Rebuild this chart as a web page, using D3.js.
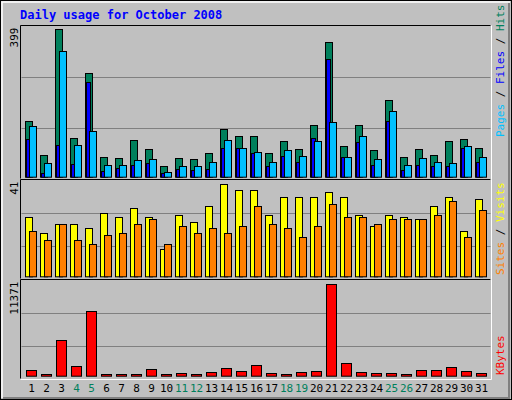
<!DOCTYPE html>
<html><head><meta charset="utf-8">
<script src="https://cdn.jsdelivr.net/npm/d3@7"></script>
<style>body{margin:0;background:#fff}</style>
</head><body><svg id="c" width="512" height="400"></svg>
<script>
const days = d3.range(1,32).map(String);
const weekend = ["4","5","11","12","18","19","25","26"];
const hits  = [151,58,399,106,282,52,50,98,74,28,50,47,63,128,109,109,63,96,74,139,364,82,139,71,207,52,74,60,96,101,79];
const files = [102,10,86,34,256,15,23,32,37,10,21,18,21,78,78,64,29,56,39,106,318,52,93,31,150,18,33,28,28,77,41];
const pages = [136,36,339,85,125,31,33,44,47,14,28,28,39,98,77,66,41,71,55,96,147,52,109,47,177,33,50,39,36,82,52];
const visits= [26.3,19.2,23.2,23.2,21.4,28,26.3,30.3,26.3,12,27.2,24,31.2,41,38.3,38.3,27.2,35.2,35.2,35.2,37.4,35.2,27.2,22.3,27.2,26.3,25.4,31.2,35.2,20,34.3];
const sites = [20,16,23.2,16,14.3,18.3,19.2,23.2,25.4,14.3,22.3,19.2,21.4,19.2,22.3,31.2,23.2,21.4,17.4,22.3,32.1,26.3,26.3,23.2,25.4,25.4,25.4,27.2,33.4,17.4,29.4];
const kbytes= [664,150,4400,1162,8010,150,150,150,790,150,290,150,415,913,540,1287,290,150,415,540,11371,1535,415,290,290,150,664,664,1037,540,290];
const maxTicks = {top:"399", mid:"41", bot:"11371"};

const svg = d3.select("#c");
const F = "DejaVu Sans Mono, monospace";
svg.append("rect").attr("x",0).attr("y",0).attr("width",512).attr("height",400).attr("fill","#C0C0C0");
svg.append("rect").attr("x",0.5).attr("y",0.5).attr("width",511).attr("height",399).attr("fill","none").attr("stroke","#000");
svg.append("path").attr("d","M2,398V2H510").attr("fill","none").attr("stroke","#fff").attr("stroke-width",1.5);
svg.append("path").attr("d","M509,3V398H3").attr("fill","none").attr("stroke","#808080").attr("stroke-width",2);
svg.append("text").attr("x",20).attr("y",19).attr("font-family",F).attr("font-weight","bold").attr("font-size",12).attr("fill","#0000FF").text("Daily usage for October 2008");

const x = d3.scaleBand().domain(days).range([21,486]);
const L=20.5, R=490.5;
const panels = [
  {y0:25.5,y1:178.5,base:176.7,top:29.3,max:399,tick:maxTicks.top},
  {y0:179.5,y1:278.5,base:276.3,top:184.3,max:41,tick:maxTicks.mid},
  {y0:279.5,y1:378.5,base:375.7,top:284.3,max:11371,tick:maxTicks.bot}
];
panels.forEach(p=>{
  p.y = d3.scaleLinear().domain([0,p.max]).range([p.base,p.top]);
  svg.append("path").attr("d",`M${L},${p.y1}V${p.y0}H${R}`).attr("fill","none").attr("stroke","#000");
  svg.append("path").attr("d",`M${R+1},${p.y0}V${p.y1+1}H${L}`).attr("fill","none").attr("stroke","#fff");
  const h=(p.y1-p.y0)/3;
  [1,2].forEach(k=>svg.append("line").attr("x1",L+1).attr("x2",R).attr("y1",Math.round(p.y0+h*k)+0.5).attr("y2",Math.round(p.y0+h*k)+0.5).attr("stroke","#808080"));
  svg.append("text").attr("transform",`translate(18,${p.y0+2}) rotate(-90)`).attr("text-anchor","end")
    .attr("font-family",F).attr("font-size",11).attr("fill","#000").text(p.tick);
});
function bars(data,p,off,w,color){
  svg.append("g").selectAll("rect").data(data).join("rect")
    .attr("x",(d,i)=>x(days[i])+off+0.5).attr("width",w)
    .attr("y",d=>Math.round(p.y(d))+0.5).attr("height",d=>Math.max(1,p.base-Math.round(p.y(d))))
    .attr("fill",color).attr("stroke","#000");
}
bars(hits,panels[0],4,7,"#00805C");
bars(files,panels[0],5,4,"#0000FF");
bars(pages,panels[0],8,7,"#00C0FF");
bars(visits,panels[1],4,7,"#FFFF00");
bars(sites,panels[1],8,7,"#FF8000");
bars(kbytes,panels[2],5,10,"#FF0000");

svg.append("g").selectAll("text").data(days).join("text")
  .attr("x",d=>x(d)+x.bandwidth()/2+3).attr("y",392).attr("text-anchor","middle")
  .attr("font-family",F).attr("font-size",11)
  .attr("fill",d=>weekend.includes(d)?"#00805C":"#000").text(d=>d);

function sideLabel(yEnd,parts){
  const t=svg.append("text").attr("transform",`translate(504,${yEnd}) rotate(-90)`)
    .attr("font-family",F).attr("font-size",11);
  parts.forEach(([s,c])=>t.append("tspan").attr("fill",c).text(s));
}
sideLabel(137,[["Pages","#00C0FF"],[" / ","#000"],["Files","#0000FF"],[" / ","#000"],["Hits","#00805C"]]);
sideLabel(275,[["Sites","#FF8000"],[" / ","#000"],["Visits","#FFFF00"]]);
sideLabel(375,[["KBytes","#FF0000"]]);
</script></body></html>
